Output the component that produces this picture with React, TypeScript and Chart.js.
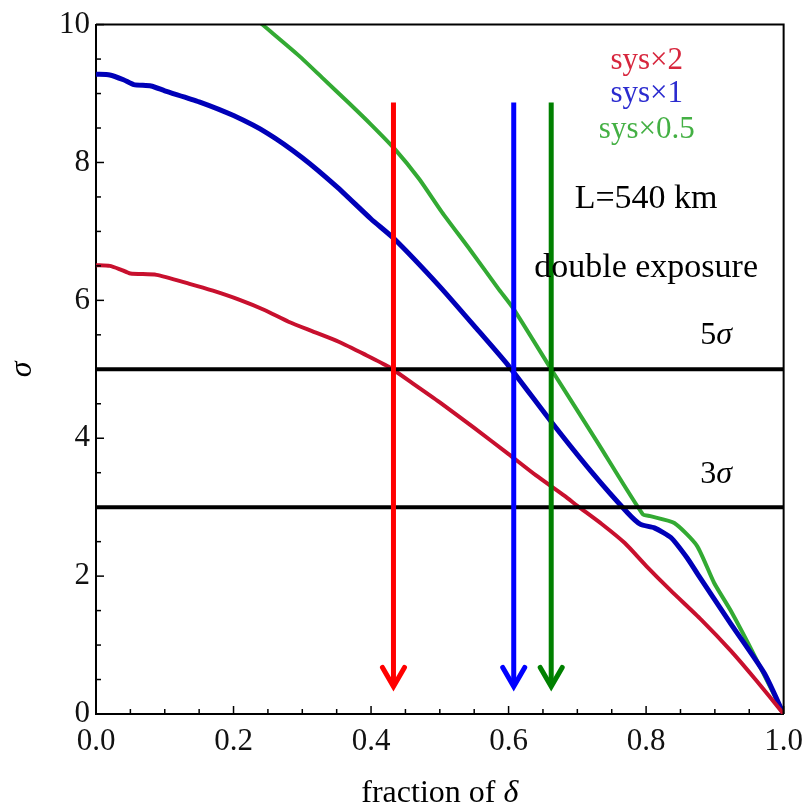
import React, { useEffect, useRef } from 'react';
import { Chart, registerables } from 'chart.js';

Chart.register(...registerables);

// ---- data ----
const redX = [0, 0.02, 0.035, 0.05, 0.088, 0.136, 0.17, 0.208, 0.245, 0.28, 0.315, 0.353, 0.39, 0.425, 0.46, 0.5, 0.55, 0.6, 0.64, 0.682, 0.7, 0.735, 0.769, 0.8, 0.836, 0.88, 0.923, 0.96, 1.0];
const redY = [6.51, 6.5, 6.45, 6.39, 6.37, 6.24, 6.14, 6.01, 5.86, 5.69, 5.55, 5.4, 5.22, 5.04, 4.8, 4.52, 4.15, 3.77, 3.46, 3.16, 3.02, 2.76, 2.48, 2.15, 1.79, 1.37, 0.92, 0.49, 0];

const blueX = [0, 0.02, 0.04, 0.055, 0.08, 0.1, 0.15, 0.2, 0.25, 0.3, 0.35, 0.4, 0.434, 0.5, 0.55, 0.6, 0.662, 0.72, 0.773, 0.792, 0.812, 0.836, 0.86, 0.875, 0.923, 0.972, 1.0];
const blueY = [9.28, 9.27, 9.2, 9.13, 9.11, 9.04, 8.88, 8.68, 8.42, 8.07, 7.65, 7.18, 6.89, 6.2, 5.63, 5.05, 4.24, 3.52, 2.92, 2.75, 2.7, 2.56, 2.26, 2.03, 1.31, 0.59, 0];

const greenX = [0.2, 0.242, 0.295, 0.33, 0.367, 0.4, 0.434, 0.47, 0.503, 0.545, 0.585, 0.607, 0.662, 0.73, 0.795, 0.806, 0.841, 0.874, 0.899, 0.923, 0.96, 1.0];
const greenY = [10.36, 10.0, 9.55, 9.22, 8.87, 8.55, 8.2, 7.76, 7.28, 6.72, 6.17, 5.88, 5.0, 3.93, 2.9, 2.87, 2.77, 2.44, 1.9, 1.5, 0.8, 0];

const xTicks = [0, 0.2, 0.4, 0.6, 0.8, 1.0];
const yTicks = [0, 2, 4, 6, 8, 10];

const sigmaLines = [5, 3];
const sigmaLabels = ['5σ', '3σ'];
const arrowX = [0.4326, 0.6075, 0.662];
const arrowTop = 8.87;
const arrowTip = 0.37;

const legendLabels = ['sys×2', 'sys×1', 'sys×0.5'];
const infoLabels = ['L=540 km', 'double exposure'];

const SERIF = '"Liberation Serif", "DejaVu Serif", serif';

const pts = (xs: number[], ys: number[]) => xs.map((x, i) => ({ x, y: ys[i] }));

const overlay = {
  id: 'overlay',
  afterDatasetsDraw(chart: any) {
    const { ctx, chartArea: a, scales } = chart;
    const xs = scales.x;
    const ys = scales.y;
    ctx.save();
    ctx.strokeStyle = '#000';
    ctx.lineWidth = 4;
    sigmaLines.forEach((v) => {
      const py = ys.getPixelForValue(v);
      ctx.beginPath();
      ctx.moveTo(a.left, py);
      ctx.lineTo(a.right, py);
      ctx.stroke();
    });
    const arrowColors = ['#ff0000', '#0000ff', '#008000'];
    arrowX.forEach((v, i) => {
      const px = xs.getPixelForValue(v);
      const top = ys.getPixelForValue(arrowTop);
      const tip = ys.getPixelForValue(arrowTip);
      ctx.strokeStyle = arrowColors[i];
      ctx.lineWidth = 5;
      ctx.lineCap = 'butt';
      ctx.beginPath();
      ctx.moveTo(px, top);
      ctx.lineTo(px, tip - 3);
      ctx.stroke();
      ctx.lineCap = 'round';
      ctx.lineJoin = 'miter';
      ctx.beginPath();
      ctx.moveTo(px - 11, tip - 21);
      ctx.lineTo(px, tip - 2);
      ctx.lineTo(px + 11, tip - 21);
      ctx.stroke();
    });
    ctx.restore();
  },
  afterDraw(chart: any) {
    const { ctx, chartArea: a, scales } = chart;
    const xs = scales.x;
    const ys = scales.y;
    ctx.save();
    ctx.strokeStyle = '#000';
    ctx.lineWidth = 2;
    ctx.beginPath();
    ctx.moveTo(a.left, a.top);
    ctx.lineTo(a.right, a.top);
    ctx.lineTo(a.right, a.bottom);
    ctx.stroke();
    ctx.lineWidth = 1.5;
    for (let k = 0; k <= 20; k++) {
      const v = k * 0.5;
      const py = ys.getPixelForValue(v);
      const len = k % 4 === 0 ? 8 : 5;
      ctx.beginPath();
      ctx.moveTo(a.left, py);
      ctx.lineTo(a.left + len, py);
      ctx.stroke();
    }
    for (let k = 0; k <= 20; k++) {
      const v = k * 0.05;
      const px = xs.getPixelForValue(v);
      const len = k % 4 === 0 ? 8 : 5;
      ctx.beginPath();
      ctx.moveTo(px, a.bottom);
      ctx.lineTo(px, a.bottom - len);
      ctx.stroke();
    }
    ctx.textAlign = 'center';
    ctx.textBaseline = 'alphabetic';
    const legCols = ['#d7263d', '#2b2bcf', '#44b044'];
    const legY = [9.36, 8.88, 8.36];
    ctx.font = `31px ${SERIF}`;
    legendLabels.forEach((t, i) => {
      ctx.fillStyle = legCols[i];
      ctx.fillText(t, xs.getPixelForValue(0.801), ys.getPixelForValue(legY[i]));
    });
    ctx.fillStyle = '#000';
    ctx.font = `34px ${SERIF}`;
    ctx.fillText(infoLabels[0], xs.getPixelForValue(0.8), ys.getPixelForValue(7.34));
    ctx.font = `34px ${SERIF}`;
    ctx.fillText(infoLabels[1], xs.getPixelForValue(0.8), ys.getPixelForValue(6.34));
    const sigY = [5.36, 3.35];
    sigmaLabels.forEach((t, i) => {
      const cx = xs.getPixelForValue(0.902);
      const by = ys.getPixelForValue(sigY[i]);
      ctx.font = `32px ${SERIF}`;
      const w1 = ctx.measureText(t[0]).width;
      ctx.font = `italic 32px ${SERIF}`;
      const w2 = ctx.measureText(t[1]).width;
      const sx = cx - (w1 + w2) / 2;
      ctx.textAlign = 'left';
      ctx.font = `32px ${SERIF}`;
      ctx.fillText(t[0], sx, by);
      ctx.font = `italic 32px ${SERIF}`;
      ctx.fillText(t[1], sx + w1, by);
    });
    const xt1 = 'fraction of ';
    const xt2 = 'δ';
    ctx.font = `32px ${SERIF}`;
    const tw1 = ctx.measureText(xt1).width;
    ctx.font = `italic 32px ${SERIF}`;
    const tw2 = ctx.measureText(xt2).width;
    const cx = (a.left + a.right) / 2;
    const sx = cx - (tw1 + tw2) / 2;
    ctx.textAlign = 'left';
    ctx.font = `32px ${SERIF}`;
    ctx.fillText(xt1, sx, 802);
    ctx.font = `italic 32px ${SERIF}`;
    ctx.fillText(xt2, sx + tw1, 802);
    ctx.translate(23, (a.top + a.bottom) / 2);
    ctx.rotate(-Math.PI / 2);
    ctx.textAlign = 'center';
    ctx.textBaseline = 'middle';
    ctx.font = `italic 32px ${SERIF}`;
    ctx.fillText('σ', 0, 0);
    ctx.restore();
  },
};

export default function App() {
  const ref = useRef<HTMLCanvasElement>(null);
  useEffect(() => {
    if (!ref.current) return;
    const chart = new Chart(ref.current, {
      type: 'line',
      data: {
        datasets: [
          { label: 'sys×2', data: pts(redX, redY), borderColor: '#c8102e', borderWidth: 4, pointRadius: 0, tension: 0.2 },
          { label: 'sys×1', data: pts(blueX, blueY), borderColor: '#0000b8', borderWidth: 5, pointRadius: 0, tension: 0.2 },
          { label: 'sys×0.5', data: pts(greenX, greenY), borderColor: '#33aa33', borderWidth: 4, pointRadius: 0, tension: 0.2 },
        ],
      },
      options: {
        animation: false,
        responsive: true,
        maintainAspectRatio: false,
        layout: { padding: { top: 22, right: 25, bottom: 0, left: 0 } },
        plugins: { legend: { display: false }, tooltip: { enabled: false } },
        scales: {
          x: {
            type: 'linear',
            min: 0,
            max: 1,
            afterBuildTicks: (s: any) => { s.ticks = xTicks.map((v) => ({ value: v })); },
            afterFit: (s: any) => { s.height = 92; },
            grid: { display: false, drawTicks: false },
            border: { display: true, color: '#000', width: 2 },
            ticks: {
              color: '#111',
              padding: 9,
              maxRotation: 0,
              font: { family: SERIF, size: 31 },
              callback: (v: any) => Number(v).toFixed(1),
            },
          },
          y: {
            type: 'linear',
            min: 0,
            max: 10,
            afterBuildTicks: (s: any) => { s.ticks = yTicks.map((v) => ({ value: v })); },
            afterFit: (s: any) => { s.width = 96; },
            grid: { display: false, drawTicks: false },
            border: { display: true, color: '#000', width: 2 },
            ticks: {
              color: '#111',
              padding: 6,
              font: { family: SERIF, size: 31 },
              callback: (v: any) => String(v),
            },
          },
        },
      },
      plugins: [overlay],
    } as any);
    return () => chart.destroy();
  }, []);
  return (
    <div style={{ position: 'absolute', left: 0, top: 0, width: 812, height: 806, background: '#fff' }}>
      <canvas ref={ref} />
    </div>
  );
}
